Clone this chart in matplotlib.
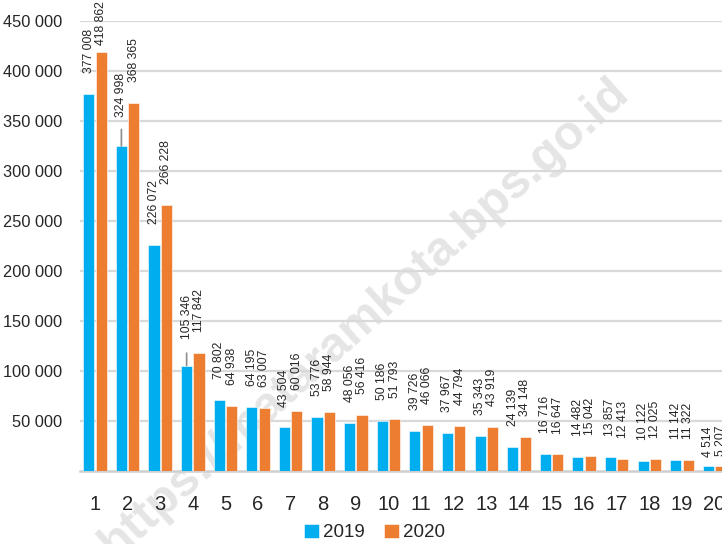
import numpy as np
import matplotlib.pyplot as plt
from matplotlib.ticker import FuncFormatter

plt.rcParams['font.family'] = ['Liberation Sans', 'DejaVu Sans']

categories = [str(i) for i in range(1, 21)]
values_2019 = [377008, 324998, 226072, 105346, 70802, 64195, 43504, 53776, 48056, 50186,
               39726, 37967, 35343, 24139, 16716, 14482, 13857, 10122, 11142, 4514]
values_2020 = [418862, 368365, 266228, 117842, 64938, 63007, 60016, 58944, 56416, 51793,
               46066, 44794, 43919, 34148, 16647, 15042, 12413, 12025, 11322, 5207]
series_names = ['2019', '2020']
y_ticks = [50000, 100000, 150000, 200000, 250000, 300000, 350000, 400000, 450000]

blue = '#00AEEF'
orange = '#ED7D31'
grid_col = '#D9D9D9'
text_col = '#262626'

fig = plt.figure(figsize=(7.22, 5.44), dpi=100)
ax = fig.add_axes([80 / 722, 73 / 544, 1 - 80 / 722, 450 / 544])
ax.patch.set_alpha(0)

x = np.arange(1, len(categories) + 1)
w = 0.34
off = 0.19
b1 = ax.bar(x - off, values_2019, w, color=blue, edgecolor='white', linewidth=0.4, zorder=3, label=series_names[0])
b2 = ax.bar(x + off, values_2020, w, color=orange, edgecolor='white', linewidth=0.4, zorder=3, label=series_names[1])

ax.set_xlim(0.54, 20.23)
ax.set_ylim(0, 450000)
ax.set_yticks(y_ticks)
ax.yaxis.set_major_formatter(FuncFormatter(lambda v, p: f'{int(v):,}'.replace(',', ' ')))
ax.set_xticks(x)
ax.set_xticklabels(categories)
ax.tick_params(axis='y', length=0, pad=13, labelsize=11.8, labelcolor=text_col)
ax.tick_params(axis='x', length=0, pad=17, labelsize=14.5, labelcolor=text_col)
ax.grid(axis='y', color=grid_col, linewidth=1.6, zorder=0)
for s in ['top', 'right', 'left']:
    ax.spines[s].set_visible(False)
ax.spines['bottom'].set_color('#CFCFCF')
ax.spines['bottom'].set_linewidth(1.8)

# label offsets in points (default 15), a few are nudged like the original
off_2019 = {1: 21, 3: 19, 19: 7}
off_2020 = {0: 5, 19: 7}
leaders = {1: 12, 3: 9}

def fmt(v):
    return f'{v:,}'.replace(',', ' ')

for i, (xi, v) in enumerate(zip(x, values_2019)):
    ax.annotate(fmt(v), (xi - off, v), xytext=(0, off_2019.get(i, 15)), textcoords='offset points',
                rotation=90, ha='center', va='bottom', fontsize=8.8, color=text_col, annotation_clip=False)
    if i in leaders:
        ax.annotate('', (xi - off, v), xytext=(0, leaders[i]), textcoords='offset points',
                    arrowprops=dict(arrowstyle='-', color='#8C8C8C', lw=1.2, shrinkA=0, shrinkB=0))
for i, (xi, v) in enumerate(zip(x, values_2020)):
    ax.annotate(fmt(v), (xi + off, v), xytext=(0, off_2020.get(i, 15)), textcoords='offset points',
                rotation=90, ha='center', va='bottom', fontsize=8.8, color=text_col, annotation_clip=False)

fig.legend(handles=[b1, b2], labels=series_names, loc='center', bbox_to_anchor=(0.519, 0.021),
           ncol=2, frameon=False, fontsize=13.5, handlelength=0.78, handleheight=0.78,
           handletextpad=0.25, columnspacing=1.0, labelcolor=text_col)

fig.text(0.505, 0.415, 'https://mataramkota.bps.go.id', rotation=42, ha='center', va='center',
         fontsize=35, fontweight='bold', family='Liberation Sans', color='#E5E5E5', zorder=-1)

fig.savefig('out.png', dpi=100)
